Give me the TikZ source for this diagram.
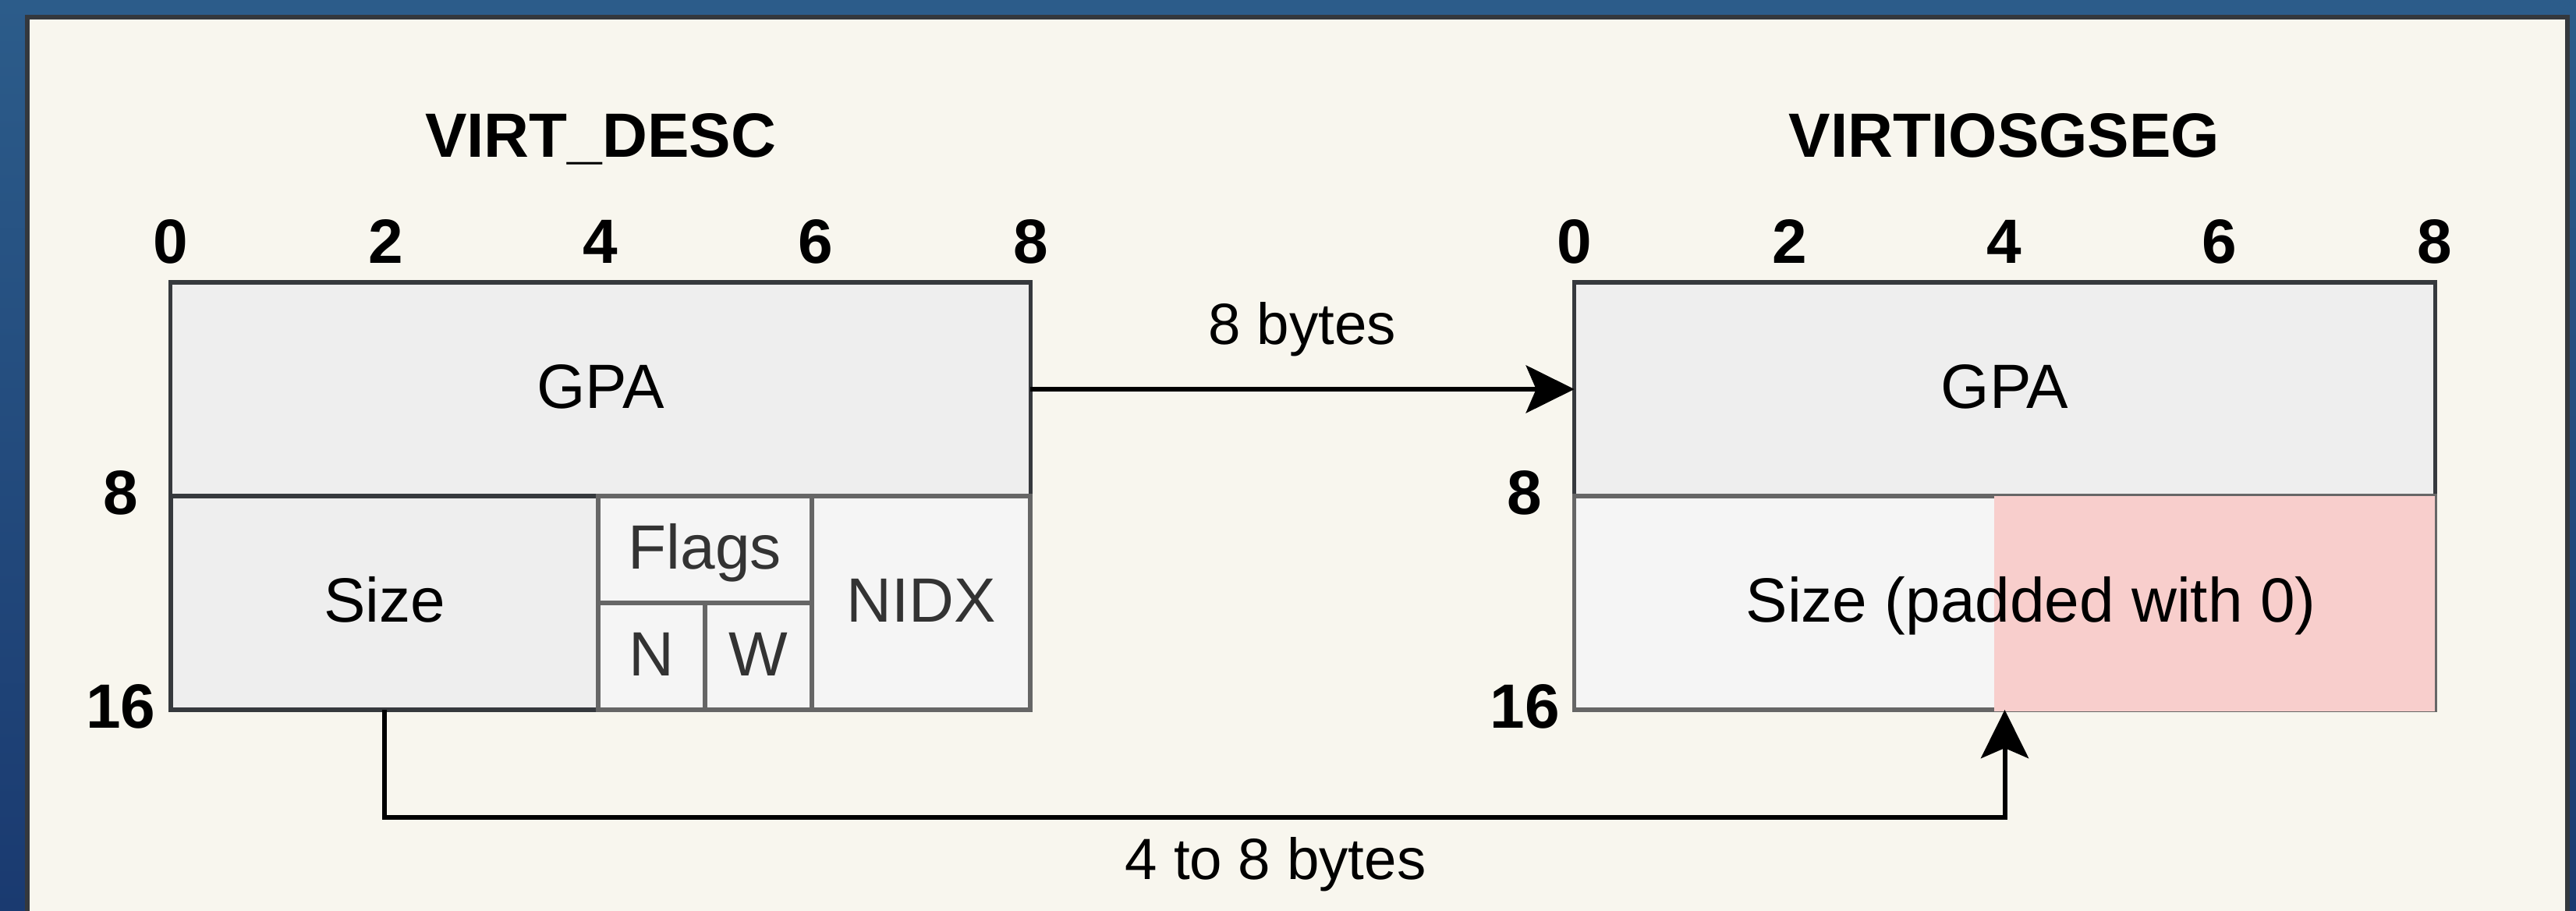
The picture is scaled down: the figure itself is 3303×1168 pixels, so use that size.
\documentclass[tikz,border=0pt]{standalone}
\usepackage{fontspec}
\setmainfont{Liberation Sans}
\usepackage{tikz}
\usetikzlibrary{arrows.meta}

\definecolor{deskTop}{RGB}{44,92,138}
\definecolor{deskBottom}{RGB}{26,58,112}
\definecolor{paper}{RGB}{248,246,238}
\definecolor{frame}{RGB}{52,56,61}
\definecolor{edgeDark}{HTML}{36393D}
\definecolor{edgeGray}{HTML}{666666}
\definecolor{fillDark}{HTML}{EEEEEE}
\definecolor{fillLight}{HTML}{F5F5F5}
\definecolor{padPink}{HTML}{F8CECC}
\definecolor{txtGray}{HTML}{333333}

\begin{document}
\begin{tikzpicture}[x=0.01cm, y=-0.01cm,
  field/.style={draw=edgeDark, fill=fillDark, line width=1.55pt, inner sep=0pt, outer sep=0pt,
    text height=19.6pt, text depth=5.4pt, font=\fontsize{22.8}{26}\selectfont},
  subfield/.style={field, draw=edgeGray, fill=fillLight, text=txtGray},
  heading/.style={anchor=base, font=\fontsize{22.8}{26}\selectfont\bfseries},
  bytes/.style={anchor=base, inner sep=0pt, font=\fontsize{21.2}{25}\selectfont},
  link/.style={-{Stealth[length=0.62cm, width=0.61cm, inset=0.13cm]}, line width=1.7pt}]

\useasboundingbox (0,0) rectangle (3303,1168);
\clip (0,0) rectangle (3303,1168);
\shade[top color=deskTop, bottom color=deskBottom] (0,0) rectangle (3303,1168);
\filldraw[fill=paper, draw=frame, line width=1.45pt] (35,22) rectangle (3292,1200);

% VIRT_DESC layout
\node[heading] (titleL) at (770,202) {VIRT\_DESC};
\node[field, minimum width=11.02cm, minimum height=2.74cm] (gpaL) at (770,499) {GPA};
\node[field, minimum width=5.48cm, minimum height=2.74cm] (sizeL) at (493,773) {Size};
\node[subfield, minimum width=2.74cm, minimum height=1.37cm] (flags) at (904,704.5) {Flags};
\node[subfield, minimum width=1.37cm, minimum height=1.37cm] (nbit) at (835.5,841.5) {N};
\node[subfield, minimum width=1.37cm, minimum height=1.37cm] (wbit) at (972.5,841.5) {W};
\node[subfield, minimum width=2.80cm, minimum height=2.74cm] (nidx) at (1181,773) {NIDX};

% VIRTIOSGSEG layout
\node[heading] (titleR) at (2570,202) {VIRTIOSGSEG};
\node[field, minimum width=11.03cm, minimum height=2.74cm] (gpaR) at (2570.5,499) {GPA};
\node[subfield, minimum width=11.03cm, minimum height=2.74cm] (sizeR) at (2570.5,773) {};
\fill[padPink] (2557,636) rectangle (3122,912);
\node[field, draw=none, fill=none] (sizeRtext) at (2604,773) {Size (padded with 0)};

% byte offsets
\foreach \b in {0,2,4,6,8}{
  \node[heading] (tl\b) at ([xshift=\b*1.3775cm, yshift=0.24cm]gpaL.north west) {\b};
  \node[heading] (tr\b) at ([xshift=\b*1.3775cm, yshift=0.24cm]gpaR.north west) {\b};
}
\node[heading] (rowL8)  at (155,660) {8};
\node[heading] (rowL16) at (155,934) {16};
\node[heading] (rowR8)  at (1955,660) {8};
\node[heading] (rowR16) at (1955,934) {16};

% copies
\coordinate (route) at (0,1048);
\draw[link] (gpaL.east) -- (gpaR.west)
  node[bytes, midway, yshift=0.57cm] (gpaBytes) {8 bytes};
\draw[link] (sizeL.south) -- (sizeL.south |- route) -- (sizeR.south |- route)
  node[bytes, pos=0.55, yshift=-0.79cm] (sizeBytes) {4 to 8 bytes} -- (sizeR.south);

\end{tikzpicture}
\end{document}
